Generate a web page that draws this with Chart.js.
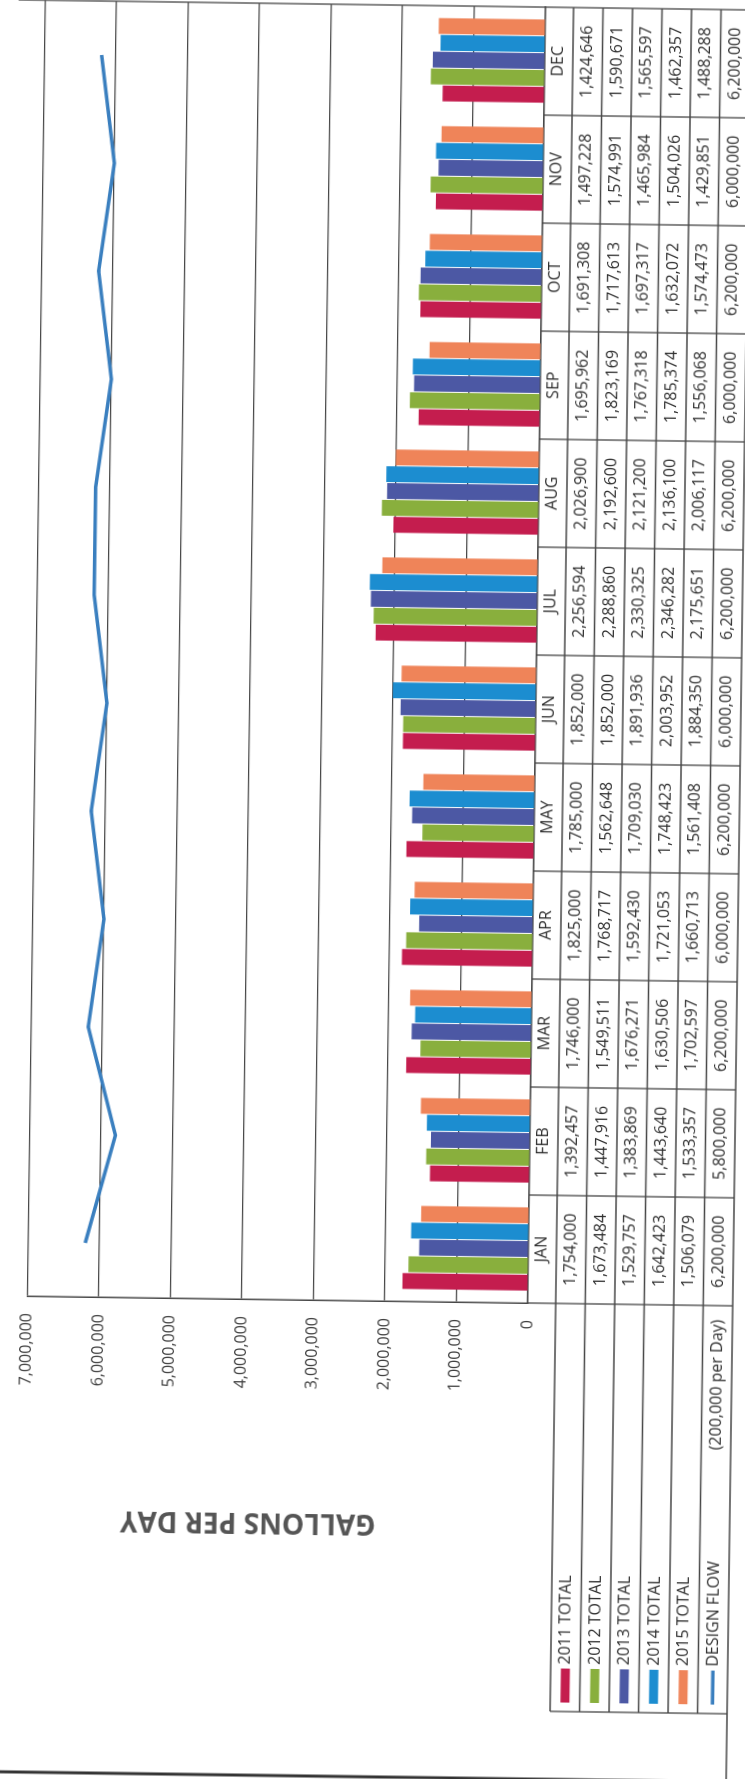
<!DOCTYPE html>
<html>
<head>
<meta charset="utf-8">
<script src="https://cdn.jsdelivr.net/npm/chart.js@4.4.1/dist/chart.umd.min.js"></script>
<style>
  html, body { margin: 0; padding: 0; background: #fff; }
  body { width: 745px; height: 1779px; overflow: hidden; position: relative; }
  /* the scanned page is turned on its side, a hair off square */
  #wrap { position: absolute; left: 0; top: 0; width: 1800px; height: 750px;
          transform-origin: 0 0; transform: translate(-6px, 1785.7px) rotate(-89.21deg); }
  #chartBar { width: 1800px; height: 750px; }
</style>
</head>
<body>
<div id="wrap"><canvas id="chartBar" width="1800" height="750"></canvas></div>
<script>
const months = ['JAN', 'FEB', 'MAR', 'APR', 'MAY', 'JUN', 'JUL', 'AUG', 'SEP', 'OCT', 'NOV', 'DEC'];

const total2011 = [1754000, 1392457, 1746000, 1825000, 1785000, 1852000, 2256594, 2026900, 1695962, 1691308, 1497228, 1424646];
const total2012 = [1673484, 1447916, 1549511, 1768717, 1562648, 1852000, 2288860, 2192600, 1823169, 1717613, 1574991, 1590671];
const total2013 = [1529757, 1383869, 1676271, 1592430, 1709030, 1891936, 2330325, 2121200, 1767318, 1697317, 1465984, 1565597];
const total2014 = [1642423, 1443640, 1630506, 1721053, 1748423, 2003952, 2346282, 2136100, 1785374, 1632072, 1504026, 1462357];
const total2015 = [1506079, 1533357, 1702597, 1660713, 1561408, 1884350, 2175651, 2006117, 1556068, 1574473, 1429851, 1488288];
const designFlow = [6200000, 5800000, 6200000, 6000000, 6200000, 6000000, 6200000, 6200000, 6000000, 6200000, 6000000, 6200000];

const seriesLabels = ['2011 TOTAL', '2012 TOTAL', '2013 TOTAL', '2014 TOTAL', '2015 TOTAL', 'DESIGN FLOW'];
const yTickLabels = ['0', '1,000,000', '2,000,000', '3,000,000', '4,000,000', '5,000,000', '6,000,000', '7,000,000'];
const axisTitle = 'GALLONS PER DAY';
const designNote = '(200,000 per Day)';

const barColors = ['#c41d4e', '#89af3d', '#4c58a4', '#1c8dd0', '#ef8459'];
const lineColor = '#3a7fbf';

// layout of the unrotated chart
const CW = 1800, CH = 750;
const PLOT_LEFT = 490, PLOT_TOP = 20, PLOT_RIGHT = 1786;
const HEAD_H = 28, ROW_H = 29.5;
const TABLE_H = HEAD_H + ROW_H * 6;
const PLOT_BOTTOM = 527;
const LEG_LEFT = 82, OUTER_X = 14;
const FONT = '"Open Sans", "Noto Sans", sans-serif';
const TEXT = '#2e2e2e';
const RULE = '#474747';

const rows = [total2011, total2012, total2013, total2014, total2015, designFlow];
const fmt = v => v.toLocaleString('en-US');

const tablePlugin = {
    id: 'dataTable',
    afterDraw(chart) {
        const ctx = chart.ctx;
        const a = chart.chartArea;
        const x = chart.scales.x;
        const catW = (a.right - a.left) / months.length;
        const t0 = a.bottom, r0 = t0 + HEAD_H, tBot = r0 + ROW_H * rows.length;

        ctx.save();
        ctx.strokeStyle = RULE;
        ctx.lineWidth = 1.3;
        ctx.beginPath();
        for (let i = 0; i <= months.length; i++) {
            const xx = a.left + i * catW;
            ctx.moveTo(xx, t0); ctx.lineTo(xx, tBot);
        }
        for (let r = 0; r <= rows.length; r++) {
            const yy = r0 + r * ROW_H;
            ctx.moveTo(LEG_LEFT, yy); ctx.lineTo(a.right, yy);
        }
        ctx.moveTo(LEG_LEFT, r0); ctx.lineTo(LEG_LEFT, tBot);
        ctx.moveTo(OUTER_X, tBot); ctx.lineTo(LEG_LEFT, tBot);
        ctx.moveTo(a.right, 0); ctx.lineTo(a.right, tBot);
        ctx.stroke();

        ctx.lineWidth = 3;
        ctx.strokeStyle = '#333';
        ctx.beginPath();
        ctx.moveTo(OUTER_X, 0); ctx.lineTo(OUTER_X, tBot);
        ctx.stroke();

        // values
        ctx.fillStyle = TEXT;
        ctx.font = '16px ' + FONT;
        ctx.textAlign = 'center';
        ctx.textBaseline = 'middle';
        rows.forEach((row, r) => {
            const yy = r0 + (r + 0.5) * ROW_H;
            row.forEach((v, i) => ctx.fillText(fmt(v), x.getPixelForValue(i), yy));
        });

        // legend keys
        ctx.textAlign = 'left';
        seriesLabels.forEach((lab, r) => {
            const yy = r0 + (r + 0.5) * ROW_H;
            if (r < 5) {
                ctx.fillStyle = barColors[r];
                ctx.fillRect(LEG_LEFT + 9, yy - 4.5, 34, 9);
            } else {
                ctx.strokeStyle = lineColor;
                ctx.lineWidth = 3.5;
                ctx.beginPath();
                ctx.moveTo(LEG_LEFT + 9, yy); ctx.lineTo(LEG_LEFT + 43, yy);
                ctx.stroke();
            }
            ctx.fillStyle = TEXT;
            ctx.fillText(lab, LEG_LEFT + 47, yy);
        });
        ctx.textAlign = 'right';
        ctx.fillText(designNote, a.left - 14, r0 + 5.5 * ROW_H);

        // axis title
        ctx.translate(268, 250);
        ctx.rotate(-Math.PI / 2);
        ctx.textAlign = 'center';
        ctx.font = 'bold 28px ' + FONT;
        ctx.fillStyle = '#555';
        ctx.fillText(axisTitle, 0, 0);
        ctx.restore();
    }
};

const data = {
    labels: months,
    datasets: [
        {
            type: 'line',
            label: seriesLabels[5],
            data: designFlow,
            borderColor: lineColor,
            borderWidth: 3.5,
            pointRadius: 0,
            tension: 0,
            order: 0
        },
        ...[total2011, total2012, total2013, total2014, total2015].map((d, i) => ({
            label: seriesLabels[i],
            data: d,
            backgroundColor: barColors[i],
            categoryPercentage: 0.78,
            barPercentage: 0.94,
            order: 1
        }))
    ]
};

const configBar = {
    type: 'bar',
    data,
    options: {
        responsive: false,
        animation: false,
        devicePixelRatio: 1,
        layout: { padding: { left: 0, top: PLOT_TOP, right: CW - PLOT_RIGHT, bottom: CH - PLOT_BOTTOM - TABLE_H } },
        plugins: { legend: { display: false }, tooltip: { enabled: false } },
        scales: {
            x: {
                grid: { display: false, drawTicks: false },
                border: { display: true, color: RULE, width: 1.5 },
                ticks: { color: TEXT, font: { family: FONT, size: 16 }, padding: 4, maxRotation: 0 },
                afterFit: s => { s.height = TABLE_H; }
            },
            y: {
                min: 0,
                max: 7000000,
                grid: { color: RULE, lineWidth: 1.2, drawTicks: false },
                border: { display: true, color: RULE, width: 1.5 },
                ticks: {
                    stepSize: 1000000,
                    padding: 17,
                    color: '#404040',
                    font: { family: FONT, size: 16 },
                    callback: (v, i) => yTickLabels[i]
                },
                afterFit: s => { s.width = PLOT_LEFT; }
            }
        }
    },
    plugins: [tablePlugin]
};

var chartBar = new Chart(document.getElementById('chartBar'), configBar);
</script>
</body>
</html>
